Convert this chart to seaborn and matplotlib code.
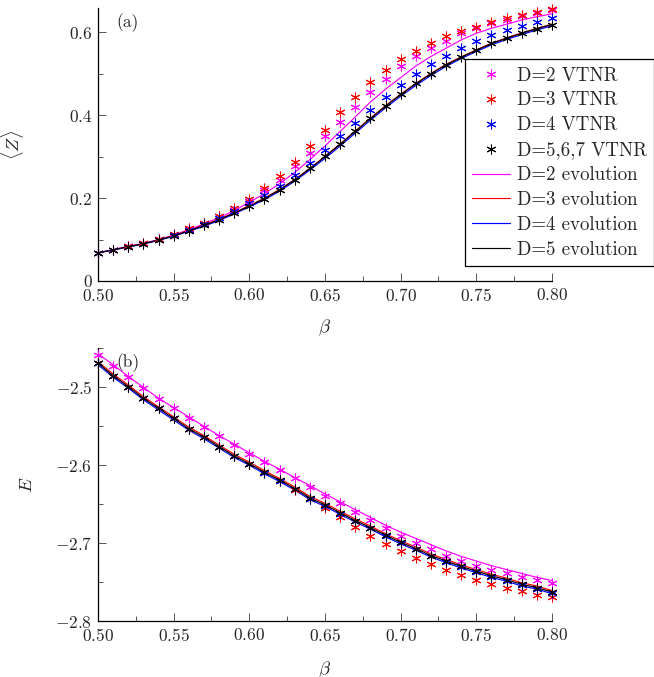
import numpy as np
import pandas as pd
import matplotlib
matplotlib.use("Agg")
import matplotlib.pyplot as plt
import seaborn as sns
from matplotlib.ticker import FixedLocator, FuncFormatter
from matplotlib.lines import Line2D

beta = [0.50, 0.51, 0.52, 0.53, 0.54, 0.55, 0.56, 0.57, 0.58, 0.59, 0.60,
        0.61, 0.62, 0.63, 0.64, 0.65, 0.66, 0.67, 0.68, 0.69, 0.70,
        0.71, 0.72, 0.73, 0.74, 0.75, 0.76, 0.77, 0.78, 0.79, 0.80]

# ---- panel (a): <Z> ----
z_vtnr_d2 = [0.068, 0.076, 0.084, 0.091, 0.101, 0.112, 0.126, 0.140, 0.156, 0.172, 0.192,
             0.219, 0.245, 0.277, 0.310, 0.349, 0.385, 0.421, 0.457, 0.488, 0.518,
             0.542, 0.562, 0.580, 0.598, 0.610, 0.622, 0.630, 0.640, 0.647, 0.654]
z_vtnr_d3 = [0.068, 0.076, 0.084, 0.092, 0.102, 0.113, 0.127, 0.140, 0.158, 0.176, 0.198,
             0.225, 0.253, 0.287, 0.327, 0.365, 0.407, 0.444, 0.480, 0.510, 0.535,
             0.556, 0.575, 0.592, 0.604, 0.614, 0.625, 0.634, 0.643, 0.649, 0.657]
z_vtnr_d4 = [0.068, 0.075, 0.083, 0.090, 0.100, 0.110, 0.123, 0.137, 0.152, 0.169, 0.188,
             0.208, 0.230, 0.257, 0.286, 0.317, 0.349, 0.381, 0.413, 0.445, 0.473,
             0.500, 0.523, 0.544, 0.562, 0.580, 0.594, 0.606, 0.616, 0.624, 0.634]
z_vtnr_d567 = [0.068, 0.075, 0.083, 0.090, 0.099, 0.109, 0.121, 0.134, 0.148, 0.164, 0.182,
               0.199, 0.220, 0.245, 0.273, 0.301, 0.331, 0.361, 0.393, 0.423, 0.452,
               0.478, 0.500, 0.522, 0.540, 0.558, 0.574, 0.586, 0.598, 0.608, 0.618]
z_evo_d2 = [0.068, 0.076, 0.084, 0.091, 0.100, 0.111, 0.124, 0.138, 0.153, 0.170, 0.190,
            0.211, 0.235, 0.262, 0.293, 0.326, 0.361, 0.396, 0.432, 0.463, 0.491,
            0.519, 0.542, 0.562, 0.582, 0.598, 0.610, 0.620, 0.630, 0.638, 0.645]
z_evo_d3 = [0.068, 0.075, 0.083, 0.090, 0.099, 0.110, 0.122, 0.135, 0.149, 0.165, 0.182,
            0.200, 0.221, 0.245, 0.272, 0.301, 0.331, 0.362, 0.393, 0.423, 0.451,
            0.477, 0.501, 0.523, 0.541, 0.558, 0.574, 0.587, 0.599, 0.610, 0.620]
z_evo_d4 = [0.068, 0.075, 0.082, 0.089, 0.098, 0.108, 0.120, 0.132, 0.146, 0.162, 0.179,
            0.196, 0.217, 0.241, 0.268, 0.296, 0.326, 0.357, 0.388, 0.418, 0.446,
            0.472, 0.496, 0.518, 0.537, 0.554, 0.570, 0.583, 0.595, 0.606, 0.616]
z_evo_d5 = [0.068, 0.075, 0.083, 0.090, 0.099, 0.109, 0.121, 0.134, 0.148, 0.164, 0.181,
            0.199, 0.220, 0.244, 0.271, 0.300, 0.330, 0.361, 0.392, 0.422, 0.450,
            0.476, 0.500, 0.522, 0.540, 0.557, 0.573, 0.586, 0.598, 0.609, 0.619]

# ---- panel (b): E ----
e_vtnr_d2 = [-2.458, -2.472, -2.487, -2.501, -2.515, -2.527, -2.539, -2.551, -2.563, -2.574, -2.585,
             -2.596, -2.606, -2.617, -2.628, -2.639, -2.649, -2.660, -2.670, -2.680, -2.691,
             -2.700, -2.708, -2.716, -2.723, -2.730, -2.735, -2.739, -2.743, -2.747, -2.751]
e_vtnr_d3 = [-2.469, -2.485, -2.499, -2.514, -2.527, -2.540, -2.553, -2.564, -2.576, -2.588, -2.598,
             -2.609, -2.620, -2.632, -2.643, -2.655, -2.667, -2.679, -2.691, -2.701, -2.710,
             -2.719, -2.727, -2.734, -2.741, -2.747, -2.752, -2.757, -2.762, -2.766, -2.769]
e_vtnr_d4 = [-2.469, -2.485, -2.499, -2.514, -2.527, -2.540, -2.553, -2.564, -2.576, -2.588, -2.599,
             -2.610, -2.620, -2.631, -2.643, -2.652, -2.662, -2.672, -2.681, -2.691, -2.700,
             -2.708, -2.717, -2.724, -2.731, -2.737, -2.743, -2.749, -2.754, -2.759, -2.764]
e_vtnr_d567 = [-2.469, -2.485, -2.499, -2.514, -2.527, -2.540, -2.553, -2.564, -2.576, -2.588, -2.598,
               -2.609, -2.619, -2.630, -2.642, -2.651, -2.661, -2.671, -2.680, -2.690, -2.699,
               -2.707, -2.716, -2.723, -2.730, -2.736, -2.742, -2.747, -2.753, -2.757, -2.763]
e_evo_d2 = [-2.457, -2.471, -2.486, -2.500, -2.514, -2.526, -2.538, -2.550, -2.562, -2.573, -2.584,
            -2.595, -2.605, -2.616, -2.626, -2.637, -2.647, -2.657, -2.667, -2.677, -2.686,
            -2.694, -2.702, -2.710, -2.717, -2.723, -2.729, -2.734, -2.739, -2.744, -2.748]
e_evo_d3 = [-2.467, -2.483, -2.497, -2.512, -2.525, -2.538, -2.551, -2.562, -2.574, -2.586, -2.596,
            -2.607, -2.617, -2.628, -2.640, -2.649, -2.659, -2.669, -2.678, -2.688, -2.697,
            -2.705, -2.714, -2.721, -2.728, -2.734, -2.740, -2.745, -2.751, -2.755, -2.761]
e_evo_d4 = [-2.471, -2.487, -2.501, -2.516, -2.529, -2.542, -2.555, -2.566, -2.578, -2.590, -2.600,
            -2.611, -2.621, -2.632, -2.644, -2.653, -2.663, -2.673, -2.682, -2.692, -2.701,
            -2.709, -2.718, -2.725, -2.732, -2.738, -2.744, -2.749, -2.755, -2.759, -2.765]
e_evo_d5 = [-2.469, -2.485, -2.499, -2.514, -2.527, -2.540, -2.553, -2.564, -2.576, -2.588, -2.598,
            -2.609, -2.619, -2.630, -2.642, -2.651, -2.661, -2.671, -2.680, -2.690, -2.699,
            -2.707, -2.716, -2.723, -2.730, -2.736, -2.742, -2.747, -2.753, -2.757, -2.763]

vtnr_labels = ["D=2 VTNR", "D=3 VTNR", "D=4 VTNR", "D=5,6,7 VTNR"]
evo_labels = ["D=2 evolution", "D=3 evolution", "D=4 evolution", "D=5 evolution"]
colors = ["#ff00ff", "#ff0000", "#0000ff", "#000000"]

x_ticks = [0.50, 0.55, 0.60, 0.65, 0.70, 0.75, 0.80]
z_ticks = [0.0, 0.2, 0.4, 0.6]
e_ticks = [-2.8, -2.7, -2.6, -2.5]

sns.set_style("ticks")
plt.rcParams["font.family"] = ["cmr10", "DejaVu Serif"]
plt.rcParams["mathtext.fontset"] = "cm"
plt.rcParams["axes.unicode_minus"] = False
FS = 12.5
LFS = 13.6

fig = plt.figure(figsize=(6.54, 6.77), dpi=100)
W = 454 / 654
H = 273 / 677
ax1 = fig.add_axes([98 / 654, 1 - 281 / 677, W, H])
ax2 = fig.add_axes([98 / 654, 1 - 621 / 677, W, H])

star = (6, 2, 0)


def draw(ax, vtnr, evo):
    handles = []
    for ys, lab, c in zip(vtnr, vtnr_labels, colors):
        df = pd.DataFrame({"beta": beta, "val": ys})
        sns.scatterplot(data=df, x="beta", y="val", ax=ax, marker=star, color=c,
                        s=42, linewidth=0.75, zorder=3, legend=False, clip_on=False)
        handles.append(Line2D([], [], linestyle="none", marker=star, color=c,
                              markersize=7, markeredgewidth=0.75, label=lab))
    for ys, lab, c in zip(evo, evo_labels, colors):
        df = pd.DataFrame({"beta": beta, "val": ys})
        sns.lineplot(data=df, x="beta", y="val", ax=ax, color=c, linewidth=0.85,
                     zorder=2, legend=False)
        handles.append(Line2D([], [], color=c, linewidth=0.85, label=lab))
    return handles


handles = draw(ax1, [z_vtnr_d2, z_vtnr_d3, z_vtnr_d4, z_vtnr_d567],
               [z_evo_d2, z_evo_d3, z_evo_d4, z_evo_d5])
draw(ax2, [e_vtnr_d2, e_vtnr_d3, e_vtnr_d4, e_vtnr_d567],
     [e_evo_d2, e_evo_d3, e_evo_d4, e_evo_d5])

ax1.set_xlim(0.50, 0.80)
ax1.set_ylim(0.0, 0.659)
ax2.set_xlim(0.50, 0.80)
ax2.set_ylim(-2.8, -2.4495)


def fmt_x(v, p):
    return r"$%.2f$" % v


def fmt_z(v, p):
    return r"$0$" if abs(v) < 1e-9 else r"$%.1f$" % v


def fmt_e(v, p):
    return r"$-%.1f$" % abs(v)


for ax, yt, yf, ymin in [(ax1, z_ticks, fmt_z, [0.1, 0.3, 0.5]),
                         (ax2, e_ticks, fmt_e, [-2.75, -2.65, -2.55, -2.45])]:
    ax.xaxis.set_major_locator(FixedLocator(x_ticks))
    ax.xaxis.set_minor_locator(FixedLocator([0.525, 0.575, 0.625, 0.675, 0.725, 0.775]))
    ax.yaxis.set_major_locator(FixedLocator(yt))
    ax.yaxis.set_minor_locator(FixedLocator(ymin))
    ax.xaxis.set_major_formatter(FuncFormatter(fmt_x))
    ax.yaxis.set_major_formatter(FuncFormatter(yf))
    ax.tick_params(which="major", direction="in", length=6, width=0.7, color="#555555",
                   labelsize=FS, pad=4)
    ax.tick_params(which="minor", direction="in", length=3.5, width=0.7, color="#555555")
    for s in ["top", "right"]:
        ax.spines[s].set_visible(False)
    for s in ["left", "bottom"]:
        ax.spines[s].set_linewidth(0.9)
        ax.spines[s].set_color("black")
    ax.set_xlabel(r"$\beta$", fontsize=FS + 1)

ax1.xaxis.set_label_coords(0.5, -0.135)
ax2.xaxis.set_label_coords(0.5, -0.14)
ax1.set_ylabel(r"$\langle Z\rangle$", fontsize=FS + 1)
ax1.yaxis.set_label_coords(-0.158, 0.5)
ax2.set_ylabel(r"$E$", fontsize=FS + 1)
ax2.yaxis.set_label_coords(-0.137, 0.5)

ax1.text(0.04, 0.945, "(a)", transform=ax1.transAxes, fontsize=FS, va="center", ha="left")
ax2.text(0.04, 0.945, "(b)", transform=ax2.transAxes, fontsize=FS, va="center", ha="left")

leg = ax1.legend(handles=handles, loc="upper left", bbox_to_anchor=(0.808, 0.813),
                 fontsize=LFS, frameon=True, fancybox=False, edgecolor="black",
                 framealpha=1, borderpad=0.4, labelspacing=0.37, handlelength=2.0,
                 handletextpad=0.35, borderaxespad=0)
leg.get_frame().set_linewidth(0.9)
leg.set_zorder(10)

fig.savefig("out.png", dpi=100)
